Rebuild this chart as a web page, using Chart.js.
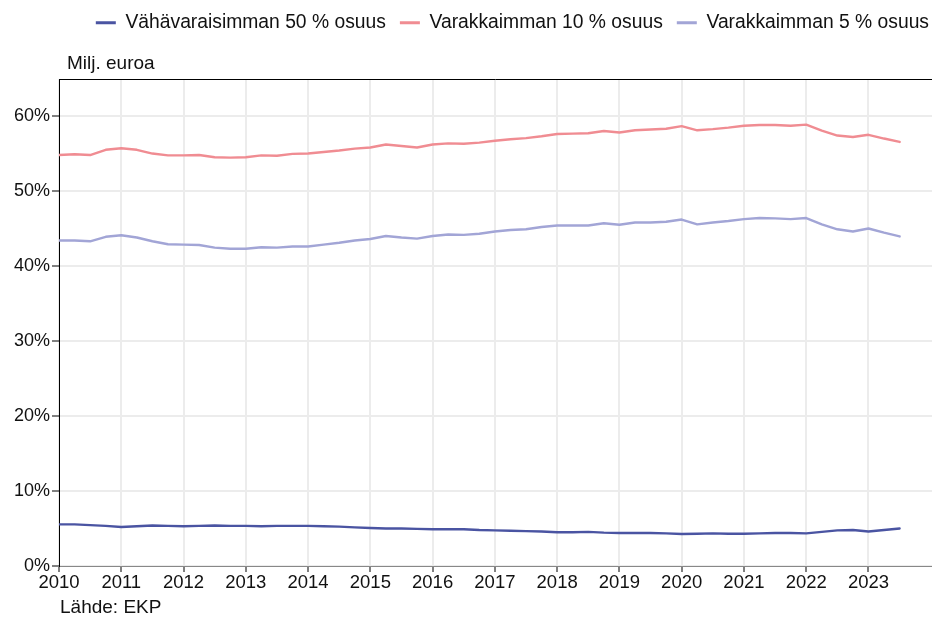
<!DOCTYPE html>
<html>
<head>
<meta charset="utf-8">
<script src="https://cdn.jsdelivr.net/npm/chart.js@4/dist/chart.umd.min.js"></script>
<style>
  html, body { margin: 0; padding: 0; background: #ffffff; }
  #wrap { width: 932px; height: 617px; position: relative; }
</style>
</head>
<body>
<div id="wrap"><canvas id="c" width="932" height="617"></canvas></div>
<script>
// ---- Data ----
const quarters = [
  "2010Q1","2010Q2","2010Q3","2010Q4",
  "2011Q1","2011Q2","2011Q3","2011Q4",
  "2012Q1","2012Q2","2012Q3","2012Q4",
  "2013Q1","2013Q2","2013Q3","2013Q4",
  "2014Q1","2014Q2","2014Q3","2014Q4",
  "2015Q1","2015Q2","2015Q3","2015Q4",
  "2016Q1","2016Q2","2016Q3","2016Q4",
  "2017Q1","2017Q2","2017Q3","2017Q4",
  "2018Q1","2018Q2","2018Q3","2018Q4",
  "2019Q1","2019Q2","2019Q3","2019Q4",
  "2020Q1","2020Q2","2020Q3","2020Q4",
  "2021Q1","2021Q2","2021Q3","2021Q4",
  "2022Q1","2022Q2","2022Q3","2022Q4",
  "2023Q1","2023Q2","2023Q3"
];
const seriesNames = ["Vähävaraisimman 50 % osuus", "Varakkaimman 10 % osuus", "Varakkaimman 5 % osuus"];
const bottom50 = [
  5.55, 5.55, 5.45, 5.35,
  5.2, 5.3, 5.4, 5.35,
  5.3, 5.35, 5.4, 5.35,
  5.35, 5.3, 5.35, 5.35,
  5.35, 5.3, 5.25, 5.15,
  5.07, 5.0, 5.0, 4.95,
  4.9, 4.9, 4.9, 4.8,
  4.75, 4.7, 4.65, 4.6,
  4.5, 4.5, 4.55, 4.45,
  4.4, 4.4, 4.4, 4.35,
  4.27, 4.3, 4.35, 4.3,
  4.3, 4.35, 4.4, 4.4,
  4.35, 4.55, 4.75, 4.8,
  4.6, 4.8, 5.0
];
const top10 = [
  54.8, 54.9, 54.8, 55.5,
  55.7, 55.5, 55.0, 54.75,
  54.75, 54.8, 54.5, 54.45,
  54.5, 54.75, 54.7, 54.95,
  55.0, 55.2, 55.4, 55.65,
  55.8, 56.2, 56.0, 55.8,
  56.2, 56.35, 56.3, 56.45,
  56.7, 56.9, 57.05, 57.3,
  57.6, 57.65, 57.7, 58.0,
  57.8, 58.1, 58.2, 58.3,
  58.65, 58.1, 58.25, 58.45,
  58.7, 58.8, 58.8, 58.7,
  58.85, 58.05, 57.4, 57.2,
  57.5, 57.0, 56.55
];
const top5 = [
  43.4, 43.4, 43.3, 43.9,
  44.1, 43.8, 43.3, 42.9,
  42.85, 42.8, 42.45, 42.3,
  42.3, 42.5, 42.45, 42.6,
  42.6, 42.85, 43.1, 43.4,
  43.6, 44.0, 43.8, 43.65,
  44.0, 44.2, 44.15, 44.3,
  44.6, 44.8, 44.9, 45.2,
  45.4, 45.4, 45.4, 45.7,
  45.5, 45.8, 45.8, 45.9,
  46.2, 45.55, 45.8, 46.0,
  46.25, 46.4, 46.35, 46.25,
  46.4, 45.55, 44.9, 44.6,
  45.0, 44.45, 43.95
];
const xTickYears = [2010, 2011, 2012, 2013, 2014, 2015, 2016, 2017, 2018, 2019, 2020, 2021, 2022, 2023];
const yTicks = [0, 10, 20, 30, 40, 50, 60];
const yAxisTitle = "Milj. euroa";
const sourceText = "Lähde: EKP";

// ---- Build ----
const xPos = quarters.map(q => parseInt(q.slice(0, 4), 10) + (parseInt(q.slice(5), 10) - 1) / 4);
const toPoints = arr => arr.map((v, i) => ({ x: xPos[i], y: v }));

const FONT = "'Liberation Sans', Arial, Helvetica, sans-serif";
const colors = ["#4a54a2", "#f08c92", "#a2a5d6"];

const extras = {
  id: 'extras',
  afterLayout(chart) {
    const lg = chart.legend;
    if (lg) {
      const dx = 11, newTop = -1;
      const h = lg.bottom - lg.top;
      lg.left += dx; lg.right += dx;
      lg.top = newTop; lg.bottom = newTop + h;
    }
  },
  afterDraw(chart) {
    const { ctx, chartArea } = chart;
    ctx.save();
    ctx.strokeStyle = '#000';
    ctx.lineWidth = 1;
    ctx.beginPath();
    ctx.moveTo(chartArea.left, Math.round(chartArea.top) + 0.5);
    ctx.lineTo(chartArea.right, Math.round(chartArea.top) + 0.5);
    ctx.stroke();
    ctx.fillStyle = '#111';
    ctx.textBaseline = 'middle';
    ctx.textAlign = 'left';
    ctx.font = "19px " + FONT;
    ctx.fillText(yAxisTitle, 67, 63.5);
    ctx.fillText(sourceText, 60, 607.5);
    ctx.restore();
  }
};

new Chart(document.getElementById('c'), {
  type: 'line',
  data: {
    datasets: [
      { label: seriesNames[0], data: toPoints(bottom50), borderColor: colors[0], backgroundColor: colors[0] },
      { label: seriesNames[1], data: toPoints(top10), borderColor: colors[1], backgroundColor: colors[1] },
      { label: seriesNames[2], data: toPoints(top5), borderColor: colors[2], backgroundColor: colors[2] }
    ]
  },
  options: {
    responsive: false,
    animation: false,
    events: [],
    layout: { padding: { top: 36, right: 0, bottom: 21, left: 0 } },
    elements: {
      line: { borderWidth: 2.4, tension: 0, borderCapStyle: 'round', borderJoinStyle: 'round' },
      point: { radius: 0 }
    },
    plugins: {
      tooltip: { enabled: false },
      legend: {
        position: 'top',
        align: 'end',
        labels: {
          boxWidth: 20,
          boxHeight: 3,
          padding: 14,
          color: '#111',
          font: { family: FONT, size: 19.3 },
          generateLabels(chart) {
            return chart.data.datasets.map((ds, i) => ({
              text: ds.label,
              fillStyle: ds.borderColor,
              strokeStyle: ds.borderColor,
              lineWidth: 0,
              hidden: false,
              datasetIndex: i,
              fontColor: '#111'
            }));
          }
        }
      }
    },
    scales: {
      x: {
        type: 'linear',
        min: 2010,
        max: 2024.02,
        afterBuildTicks(scale) {
          scale.ticks = xTickYears.map(v => ({ value: v }));
        },
        afterFit(scale) { scale.height = 30; },
        ticks: {
          autoSkip: false,
          maxRotation: 0,
          padding: 0,
          color: '#111',
          font: { family: FONT, size: 18.5 },
          callback: v => String(v)
        },
        grid: {
          color: '#ececec',
          lineWidth: 2,
          tickColor: '#000',
          tickLength: 6,
          tickWidth: 1
        },
        border: { display: true, color: '#888888', width: 1 }
      },
      y: {
        type: 'linear',
        min: 0,
        max: 64.9,
        afterBuildTicks(scale) {
          scale.ticks = yTicks.map(v => ({ value: v }));
        },
        afterFit(scale) { scale.width = 59; },
        ticks: {
          padding: 2,
          color: '#111',
          font: { family: FONT, size: 18 },
          callback: v => v + '%'
        },
        grid: {
          color: '#ececec',
          lineWidth: 2,
          tickColor: '#000',
          tickLength: 7,
          tickWidth: 1
        },
        border: { display: true, color: '#000', width: 1 }
      }
    }
  },
  plugins: [extras]
});
</script>
</body>
</html>
